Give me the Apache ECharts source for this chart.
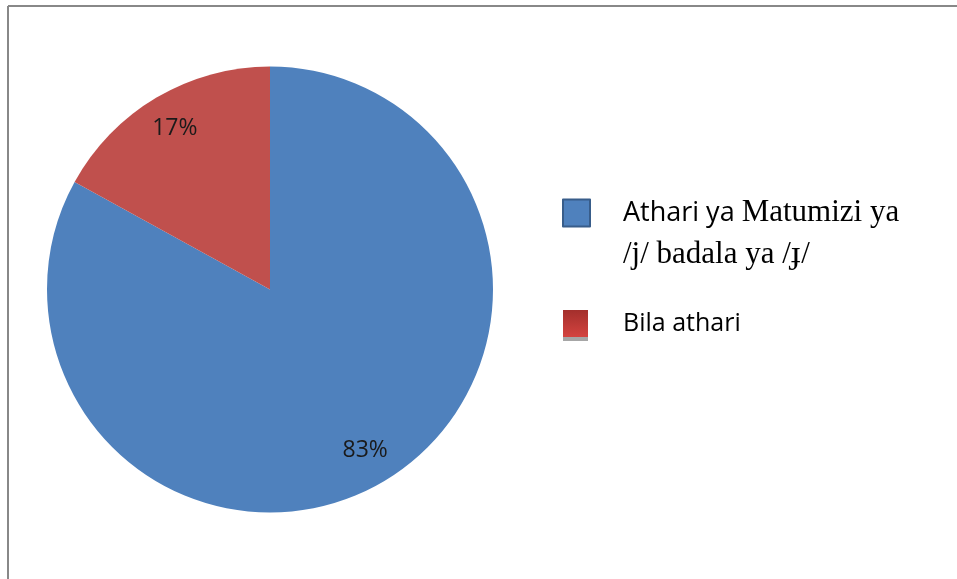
<!DOCTYPE html>
<html>
<head>
<meta charset="utf-8">
<script src="https://cdn.jsdelivr.net/npm/echarts@6/dist/echarts.min.js"></script>
<style>
html,body{margin:0;padding:0;background:#fff;}
#chart{width:957px;height:579px;}
</style>
</head>
<body>
<div id="chart"></div>
<script>
const categories = ['Athari ya Matumizi ya /j/ badala ya /ɟ/', 'Bila athari'];
const values = [83, 17];
const colors = ['#4f81bd', '#c0504d'];

const chart = echarts.init(document.getElementById('chart'), null, {renderer: 'canvas'});
const pieData = categories.map((c, i) => ({name: c, value: values[i], itemStyle: {color: colors[i]}}));

chart.setOption({
  animation: false,
  backgroundColor: '#ffffff',
  graphic: [
    {type: 'line', shape: {x1: 8, y1: 6, x2: 957, y2: 6}, style: {stroke: '#888888', lineWidth: 2}},
    {type: 'line', shape: {x1: 8, y1: 6, x2: 8, y2: 579}, style: {stroke: '#888888', lineWidth: 2}}
  ],
  legend: [
    {
      data: [{name: categories[0], itemStyle: {color: '#4f81bd', borderColor: '#385d8a', borderWidth: 2}}],
      orient: 'vertical',
      left: 562, top: 150, padding: 0,
      itemWidth: 27, itemHeight: 27,
      icon: 'rect',
      selectedMode: false,
      formatter: () => '{s|Athari ya }{t|Matumizi ya}\n{t|/j/ badala ya /ɟ/}',
      textStyle: {
        padding: [42, 0, 0, 28],
        lineHeight: 42,
        rich: {
          s: {fontFamily: 'Open Sans', fontSize: 27, color: '#000', lineHeight: 42},
          t: {fontFamily: 'Liberation Serif', fontSize: 31, color: '#000', lineHeight: 42}
        }
      }
    },
    {
      data: [{name: categories[1], itemStyle: {color: {type: 'linear', x: 0, y: 0, x2: 0, y2: 1, colorStops: [{offset: 0, color: '#a32f2c'}, {offset: 1, color: '#d4433f'}]}, shadowColor: '#a6a6a6', shadowOffsetY: 4, shadowBlur: 0}}],
      orient: 'vertical',
      left: 563, top: 310, padding: 0,
      itemWidth: 25, itemHeight: 27,
      icon: 'rect',
      selectedMode: false,
      textStyle: {fontFamily: 'Open Sans', fontSize: 25, color: '#000', padding: [9, 0, 0, 30]}
    }
  ],
  series: [
    {
      type: 'pie',
      center: [270, 289.5],
      radius: [0, 223],
      startAngle: 90,
      clockwise: true,
      silent: true,
      label: {show: false},
      labelLine: {show: false},
      itemStyle: {borderWidth: 0},
      emphasis: {disabled: true},
      data: pieData
    },
    {
      type: 'pie',
      center: [270, 289.5],
      radius: [145, 223],
      startAngle: 90,
      clockwise: true,
      silent: true,
      itemStyle: {color: 'rgba(0,0,0,0)', borderWidth: 0},
      emphasis: {disabled: true},
      label: {show: true, position: 'inside', formatter: '{c}%', fontFamily: 'Open Sans', fontSize: 23, color: '#1a1a1a'},
      labelLine: {show: false},
      data: categories.map((c, i) => ({name: c, value: values[i]}))
    }
  ]
});
</script>
</body>
</html>
